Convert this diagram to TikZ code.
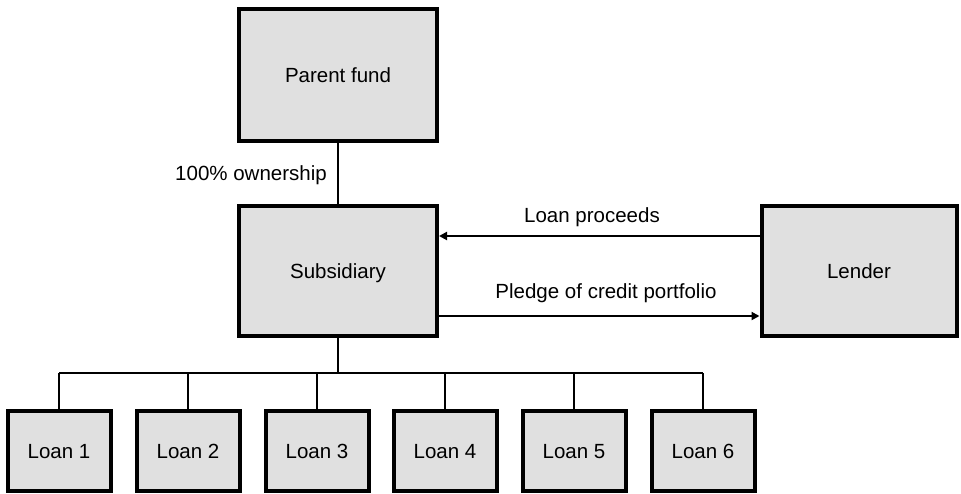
\documentclass[tikz,border=0pt]{standalone}
\usepackage{fontspec}
\setmainfont{Liberation Sans}
\usetikzlibrary{arrows.meta}
\definecolor{boxfill}{RGB}{224,224,224}
\begin{document}
\begin{tikzpicture}[x=1pt,y=-1pt,
  box/.style={draw=black, fill=boxfill, line width=4pt, rectangle, font=\fontsize{20.5}{23}\selectfont, inner sep=0pt, text height=14.5pt, text depth=0pt},
  bigbox/.style={box, minimum width=198pt},
  loanbox/.style={box, minimum width=103pt, minimum height=80pt},
  conn/.style={line width=2.2pt},
  arr/.style={line width=2.2pt, -{Triangle[length=8pt,width=8pt]}},
  lbl/.style={font=\fontsize{20.5}{23}\selectfont, inner sep=0pt}]
\useasboundingbox (0,0) rectangle (961,493);
\node[bigbox, minimum height=132pt] (parent) at (338,75) {Parent fund};
\node[bigbox, minimum height=130pt] (sub) at (338,271) {Subsidiary};
\node[box, minimum width=195pt, minimum height=130pt] (lender) at (859,271) {Lender};
\foreach \i/\x in {1/59,2/188,3/317,4/445,5/574,6/703}{
  \node[loanbox] (loan\i) at (\x,451) {Loan \i};
}
\draw[conn] (parent.south) -- (sub.north);
\node[lbl] (own) at (251,175) {100\% ownership};
\coordinate (busL) at (59,373);
\coordinate (busR) at (703,373);
\draw[conn] (sub.south) -- (sub.south |- busL);
\draw[conn] (busL) -- (busR);
\foreach \i in {1,...,6}{
  \draw[conn] (loan\i.north |- busL) -- (loan\i.north);
}
\draw[arr] (lender.west |- 0,236) -- (sub.east |- 0,236);
\draw[arr] (sub.east |- 0,316) -- (lender.west |- 0,316);
\node[lbl] (lp) at (592,217) {Loan proceeds};
\node[lbl] (pc) at (606,293) {Pledge of credit portfolio};
\end{tikzpicture}
\end{document}
